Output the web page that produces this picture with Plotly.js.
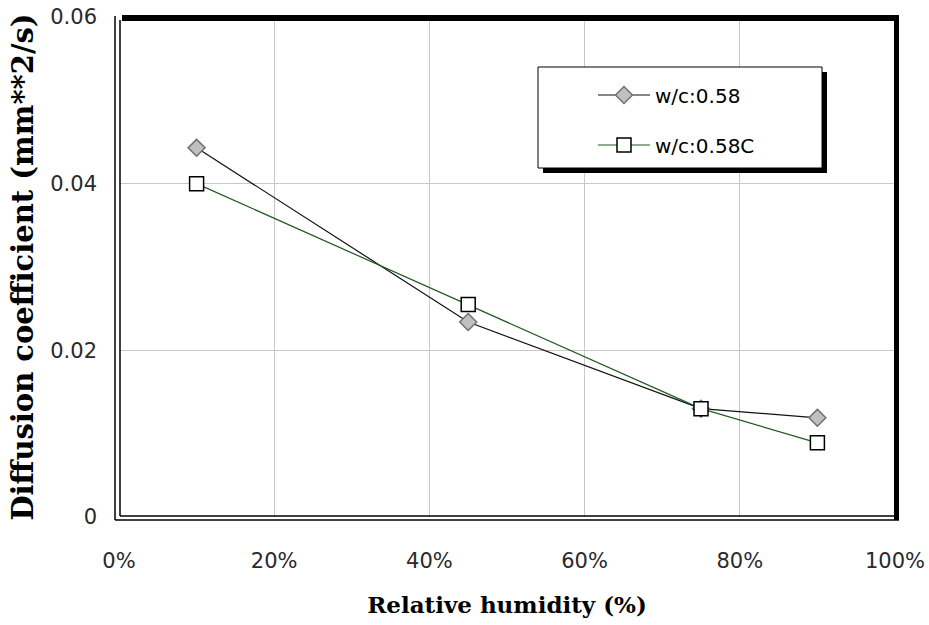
<!DOCTYPE html>
<html>
<head>
<meta charset="utf-8">
<script src="https://cdn.plot.ly/plotly-3.0.1.min.js"></script>
<style>
html,body{margin:0;padding:0;background:#fff;}
#chart{width:929px;height:625px;}
</style>
</head>
<body>
<div id="chart"></div>
<script>
// Data
var humidity = [0.10, 0.45, 0.75, 0.90];
var series1Name = "w/c:0.58";
var series1 = [0.0443, 0.0234, 0.0130, 0.0119];
var series2Name = "w/c:0.58C";
var series2 = [0.0400, 0.0255, 0.0130, 0.0089];
var xTickVals = [0, 0.2, 0.4, 0.6, 0.8, 1.0];
var xTickText = ["0%", "20%", "40%", "60%", "80%", "100%"];
var yTickVals = [0, 0.02, 0.04, 0.06];
var yTickText = ["0", "0.02", "0.04", "0.06"];

// plot area in pixels
var L = 119, R = 895, T = 17, B = 517;
var W = R - L, H = B - T;
function px(x){ return (x - L) / W; }
function py(y){ return (B - y) / H; }

var tickFontFamily = "DejaVu Sans, Verdana, sans-serif";

var traces = [
  {
    x: humidity, y: series1, name: series1Name, type: "scatter", mode: "lines+markers",
    line: {color: "#111111", width: 1.2},
    marker: {symbol: "diamond", size: 13, color: "#c0c0c0", line: {color: "#707070", width: 1.5}},
    legend: "legend"
  },
  {
    x: humidity, y: series2, name: series2Name, type: "scatter", mode: "lines+markers",
    line: {color: "#1e5a1e", width: 1.2},
    marker: {symbol: "square", size: 14, color: "#ffffff", line: {color: "#000000", width: 1.5}},
    legend: "legend2"
  }
];

var shapes = [
  // legend shadow and box
  {type: "rect", xref: "paper", yref: "paper", x0: px(543), x1: px(827), y0: py(173), y1: py(72),
   fillcolor: "#000", line: {width: 0}, layer: "above"},
  {type: "rect", xref: "paper", yref: "paper", x0: px(538), x1: px(822), y0: py(168), y1: py(67),
   fillcolor: "#fff", line: {color: "#000", width: 1}, layer: "above"},
  // frame: left double lines
  {type: "line", xref: "paper", yref: "paper", x0: px(115), x1: px(115), y0: py(520), y1: py(16),
   line: {color: "#000", width: 1.5}, layer: "above"},
  {type: "line", xref: "paper", yref: "paper", x0: px(120), x1: px(120), y0: py(516), y1: py(20),
   line: {color: "#000", width: 1.5}, layer: "above"},
  // bottom double lines
  {type: "line", xref: "paper", yref: "paper", x0: px(120), x1: px(894), y0: py(516), y1: py(516),
   line: {color: "#000", width: 1.5}, layer: "above"},
  {type: "line", xref: "paper", yref: "paper", x0: px(115), x1: px(899), y0: py(520), y1: py(520),
   line: {color: "#000", width: 1.5}, layer: "above"},
  // top thick
  {type: "rect", xref: "paper", yref: "paper", x0: px(122), x1: px(899), y0: py(21), y1: py(15),
   fillcolor: "#000", line: {width: 0}, layer: "above"},
  // right thick
  {type: "rect", xref: "paper", yref: "paper", x0: px(894), x1: px(899), y0: py(520), y1: py(15),
   fillcolor: "#000", line: {width: 0}, layer: "above"}
];

var layout = {
  width: 929, height: 625,
  margin: {l: L, r: 929 - R, t: T, b: 625 - B, autoexpand: false},
  paper_bgcolor: "#fff", plot_bgcolor: "#fff",
  showlegend: true,
  font: {family: tickFontFamily, color: "#222"},
  xaxis: {
    range: [0, 1], tickvals: xTickVals, ticktext: xTickText,
    showgrid: true, gridcolor: "#c8c8c8", gridwidth: 1, zeroline: false, showline: false,
    ticks: "", ticklabelstandoff: 29,
    tickfont: {size: 21, color: "#2a2a2a", family: tickFontFamily},
    title: {text: "Relative humidity (%)", standoff: 24,
      font: {family: "DejaVu Serif, serif", size: 23, weight: "bold", color: "#000"}},
    fixedrange: true
  },
  yaxis: {
    range: [0, 0.06], tickvals: yTickVals, ticktext: yTickText,
    showgrid: true, gridcolor: "#c8c8c8", gridwidth: 1, zeroline: false, showline: false,
    ticks: "", ticklabelstandoff: 21,
    tickfont: {size: 21, color: "#2a2a2a", family: tickFontFamily},
    title: {text: "Diffusion coefficient (mm**2/s)", standoff: 8,
      font: {family: "DejaVu Serif, serif", size: 29, weight: "bold", color: "#000"}},
    fixedrange: true
  },
  legend: {
    x: px(593), y: py(95), xanchor: "left", yanchor: "middle",
    bgcolor: "rgba(0,0,0,0)", borderwidth: 0, itemwidth: 52,
    font: {size: 20, color: "#000", family: tickFontFamily}
  },
  legend2: {
    x: px(593), y: py(145), xanchor: "left", yanchor: "middle",
    bgcolor: "rgba(0,0,0,0)", borderwidth: 0, itemwidth: 52,
    font: {size: 20, color: "#000", family: tickFontFamily}
  },
  shapes: shapes
};

Plotly.newPlot("chart", traces, layout, {staticPlot: true});
</script>
</body>
</html>
